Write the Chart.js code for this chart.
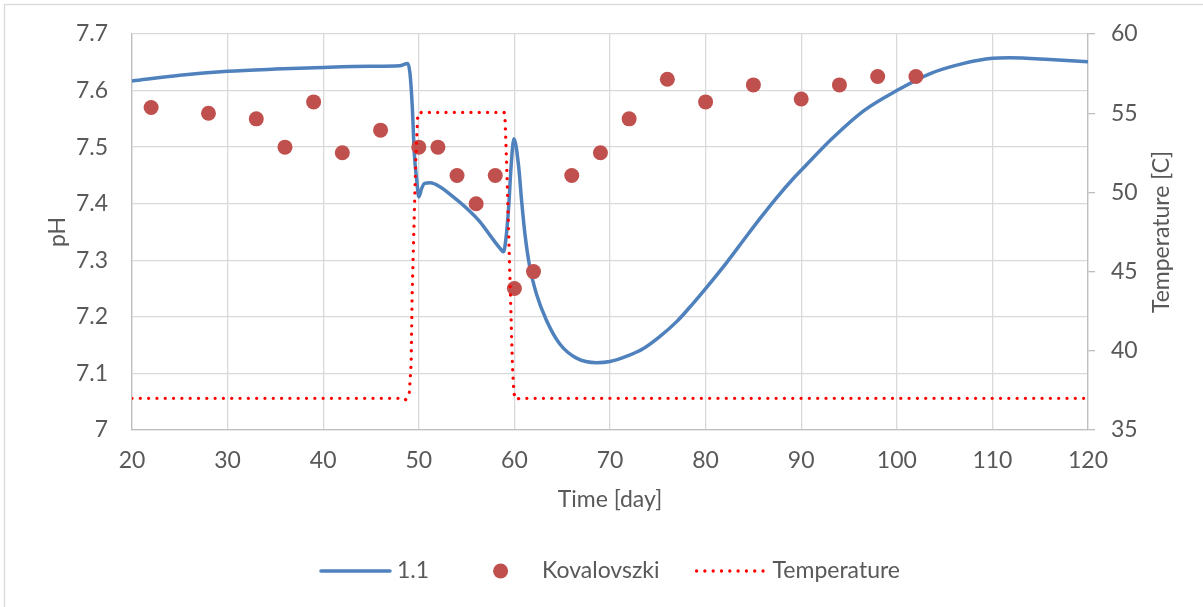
<!DOCTYPE html>
<html>
<head>
<meta charset="utf-8">
<title>pH and temperature</title>
<script src="https://cdn.jsdelivr.net/npm/chart.js@4.4.1/dist/chart.umd.min.js"></script>
<style>
    html, body { margin: 0; padding: 0; background: #ffffff; }
    #wrap { position: relative; width: 1203px; height: 607px; }
</style>
</head>
<body>
<div id="wrap"><canvas id="grafica" width="1203" height="607"></canvas></div>
<script>
// Modelo 1.1 (pH)
const modelDays = [20, 25, 30, 35, 40, 45, 48, 48.84, 49.08, 49.32, 49.53, 49.78, 50.0, 50.3, 50.6, 51.2, 52.2, 53.6, 55.0, 56.4, 57.8, 58.5, 58.85, 59.1, 59.4, 59.65, 59.95, 60.45, 60.75, 61.1, 61.6, 62.3, 63.35, 64.75, 66.5, 68.6, 70, 71.7, 73.5, 75.2, 77, 78.7, 80, 82.2, 83.9, 85.7, 87.4, 89.2, 90, 93.1, 96.6, 100, 103.5, 107, 110, 111.8, 116, 120];
const modelPH = [7.617, 7.627, 7.634, 7.638, 7.641, 7.643, 7.644, 7.648, 7.630, 7.571, 7.489, 7.442, 7.412, 7.427, 7.436, 7.437, 7.430, 7.412, 7.392, 7.368, 7.336, 7.321, 7.315, 7.336, 7.394, 7.465, 7.515, 7.465, 7.406, 7.347, 7.289, 7.241, 7.194, 7.152, 7.127, 7.119, 7.121, 7.130, 7.144, 7.165, 7.192, 7.224, 7.250, 7.296, 7.334, 7.374, 7.410, 7.445, 7.459, 7.513, 7.565, 7.600, 7.630, 7.648, 7.657, 7.658, 7.655, 7.651];

// Kovalovszki (medido)
const kovDays = [22, 28, 33, 36, 39, 42, 46, 50, 52, 54, 56, 58, 60, 62, 66, 69, 72, 76, 80, 85, 90, 94, 98, 102];
const kovPH = [7.57, 7.56, 7.55, 7.50, 7.58, 7.49, 7.53, 7.50, 7.50, 7.45, 7.40, 7.45, 7.25, 7.28, 7.45, 7.49, 7.55, 7.62, 7.58, 7.61, 7.585, 7.61, 7.625, 7.625];

// Temperatura [C]
const tempDays = [20, 48.3, 48.6, 49.0, 49.2, 49.3, 49.5, 49.7, 49.9, 50.3, 58.9, 59.0, 59.2, 59.4, 59.6, 59.8, 59.95, 60.2, 60.5, 120];
const tempValues = [37, 37, 36.9, 37.3, 39.2, 43.4, 48, 52.3, 55, 55.05, 55.05, 55, 51.6, 47.4, 43.2, 39, 37.3, 36.9, 37, 37];

// Etiquetas de los ejes
const phTickLabels = ['7', '7.1', '7.2', '7.3', '7.4', '7.5', '7.6', '7.7'];
const tempTickLabels = ['35', '40', '45', '50', '55', '60'];
const dayTickLabels = ['20', '30', '40', '50', '60', '70', '80', '90', '100', '110', '120'];

const seriesNames = ['1.1', 'Kovalovszki', 'Temperature'];

const textColor = '#595959';
const gridColor = '#d9d9d9';
const axisColor = '#bfbfbf';
const fontFamily = 'Lato, "Open Sans", sans-serif';
const fontSize = 23;

function toPoints(xs, ys) {
    return xs.map((x, i) => ({ x: x, y: ys[i] }));
}

// Borde exterior del grafico
const chartBorder = {
    id: 'chartBorder',
    beforeDraw(chart) {
        const ctx = chart.ctx;
        ctx.save();
        ctx.fillStyle = '#ffffff';
        ctx.fillRect(0, 0, chart.width, chart.height);
        ctx.strokeStyle = gridColor;
        ctx.lineWidth = 1.3;
        ctx.strokeRect(4.5, 4.5, chart.width + 10, chart.height + 10);
        ctx.restore();
    }
};

// Titulo del eje derecho (se lee de abajo hacia arriba)
const rightTitle = {
    id: 'rightTitle',
    afterDraw(chart) {
        const ctx = chart.ctx;
        const area = chart.chartArea;
        ctx.save();
        ctx.translate(1162, (area.top + area.bottom) / 2);
        ctx.rotate(-Math.PI / 2);
        ctx.font = fontSize + 'px ' + fontFamily;
        ctx.fillStyle = textColor;
        ctx.textAlign = 'center';
        ctx.textBaseline = 'middle';
        ctx.fillText('Temperature [C]', 0, 0);
        ctx.restore();
    }
};

// Leyenda dibujada a mano para imitar la de Excel
const excelLegend = {
    id: 'excelLegend',
    afterDraw(chart) {
        const ctx = chart.ctx;
        const area = chart.chartArea;
        const sample = 71, gap = 6, itemGap = 36;
        const y = 571;
        ctx.save();
        ctx.font = fontSize + 'px ' + fontFamily;
        const widths = seriesNames.map(n => ctx.measureText(n).width);
        let total = 0;
        widths.forEach((w, i) => { total += sample + gap + w + (i > 0 ? itemGap : 0); });
        let x = (area.left + area.right) / 2 - total / 2;
        seriesNames.forEach((name, i) => {
            const ds = chart.data.datasets[i];
            if (i === 1) {
                ctx.beginPath();
                ctx.fillStyle = ds.backgroundColor;
                ctx.arc(x + sample / 2, y, ds.pointRadius, 0, Math.PI * 2);
                ctx.fill();
            } else {
                ctx.beginPath();
                ctx.strokeStyle = ds.borderColor;
                ctx.lineWidth = ds.borderWidth;
                ctx.lineCap = 'round';
                ctx.setLineDash(ds.borderDash || []);
                ctx.moveTo(x + 1, y);
                ctx.lineTo(x + sample - 1, y);
                ctx.stroke();
                ctx.setLineDash([]);
            }
            ctx.fillStyle = textColor;
            ctx.textAlign = 'left';
            ctx.textBaseline = 'middle';
            ctx.fillText(name, x + sample + gap, y);
            x += sample + gap + widths[i] + itemGap;
        });
        ctx.restore();
    }
};

const ctx = document.getElementById('grafica').getContext('2d');
new Chart(ctx, {
    type: 'line',
    data: {
        datasets: [
            {
                label: seriesNames[0],
                data: toPoints(modelDays, modelPH),
                borderColor: '#4f81bd',
                borderWidth: 3.5,
                pointRadius: 0,
                cubicInterpolationMode: 'monotone',
                borderCapStyle: 'round',
                yAxisID: 'y',
                order: 2
            },
            {
                label: seriesNames[1],
                type: 'scatter',
                data: toPoints(kovDays, kovPH),
                backgroundColor: '#c0504d',
                borderColor: '#c0504d',
                borderWidth: 0,
                pointRadius: 7.5,
                showLine: false,
                yAxisID: 'y',
                order: 1
            },
            {
                label: seriesNames[2],
                data: toPoints(tempDays, tempValues),
                borderColor: '#ff0000',
                borderWidth: 3.3,
                borderDash: [0.01, 8.3],
                borderCapStyle: 'round',
                pointRadius: 0,
                tension: 0,
                yAxisID: 'y1',
                order: 0
            }
        ]
    },
    options: {
        responsive: false,
        animation: false,
        devicePixelRatio: 1,
        layout: { padding: { top: 34, bottom: 92, left: 0, right: 0 } },
        plugins: {
            legend: { display: false },
            tooltip: { enabled: false }
        },
        scales: {
            x: {
                type: 'linear',
                min: 20,
                max: 120,
                afterFit(scale) { scale.height = 85; },
                ticks: {
                    stepSize: 10,
                    padding: 17,
                    color: textColor,
                    font: { family: fontFamily, size: fontSize },
                    callback: (v, i) => dayTickLabels[i]
                },
                grid: { color: gridColor, lineWidth: 1.3, drawTicks: false },
                border: { color: axisColor, width: 1.3 },
                title: {
                    display: true,
                    text: 'Time [day]',
                    color: textColor,
                    font: { family: fontFamily, size: fontSize },
                    padding: { top: 0, bottom: 2 }
                }
            },
            y: {
                position: 'left',
                min: 7,
                max: 7.7,
                afterFit(scale) { scale.width = 132; },
                ticks: {
                    stepSize: 0.1,
                    padding: 0,
                    color: textColor,
                    font: { family: fontFamily, size: fontSize },
                    callback: (v, i) => phTickLabels[i]
                },
                // marcas invisibles: separan las etiquetas del eje sin empujar el area del grafico
                grid: { color: gridColor, lineWidth: 1.3, drawTicks: true, tickLength: 24, tickColor: 'rgba(0,0,0,0)' },
                border: { color: axisColor, width: 1.3 },
                title: {
                    display: true,
                    text: 'pH',
                    color: textColor,
                    font: { family: fontFamily, size: fontSize },
                    padding: { top: 44, bottom: 0 }
                }
            },
            y1: {
                position: 'right',
                min: 35,
                max: 60,
                afterFit(scale) { scale.width = 115; },
                ticks: {
                    stepSize: 5,
                    padding: 16,
                    color: textColor,
                    font: { family: fontFamily, size: fontSize },
                    callback: (v, i) => tempTickLabels[i]
                },
                grid: { drawOnChartArea: false, color: axisColor, lineWidth: 1.3, tickLength: 7 },
                border: { color: axisColor, width: 1.3 }
            }
        }
    },
    plugins: [chartBorder, rightTitle, excelLegend]
});
</script>
</body>
</html>
